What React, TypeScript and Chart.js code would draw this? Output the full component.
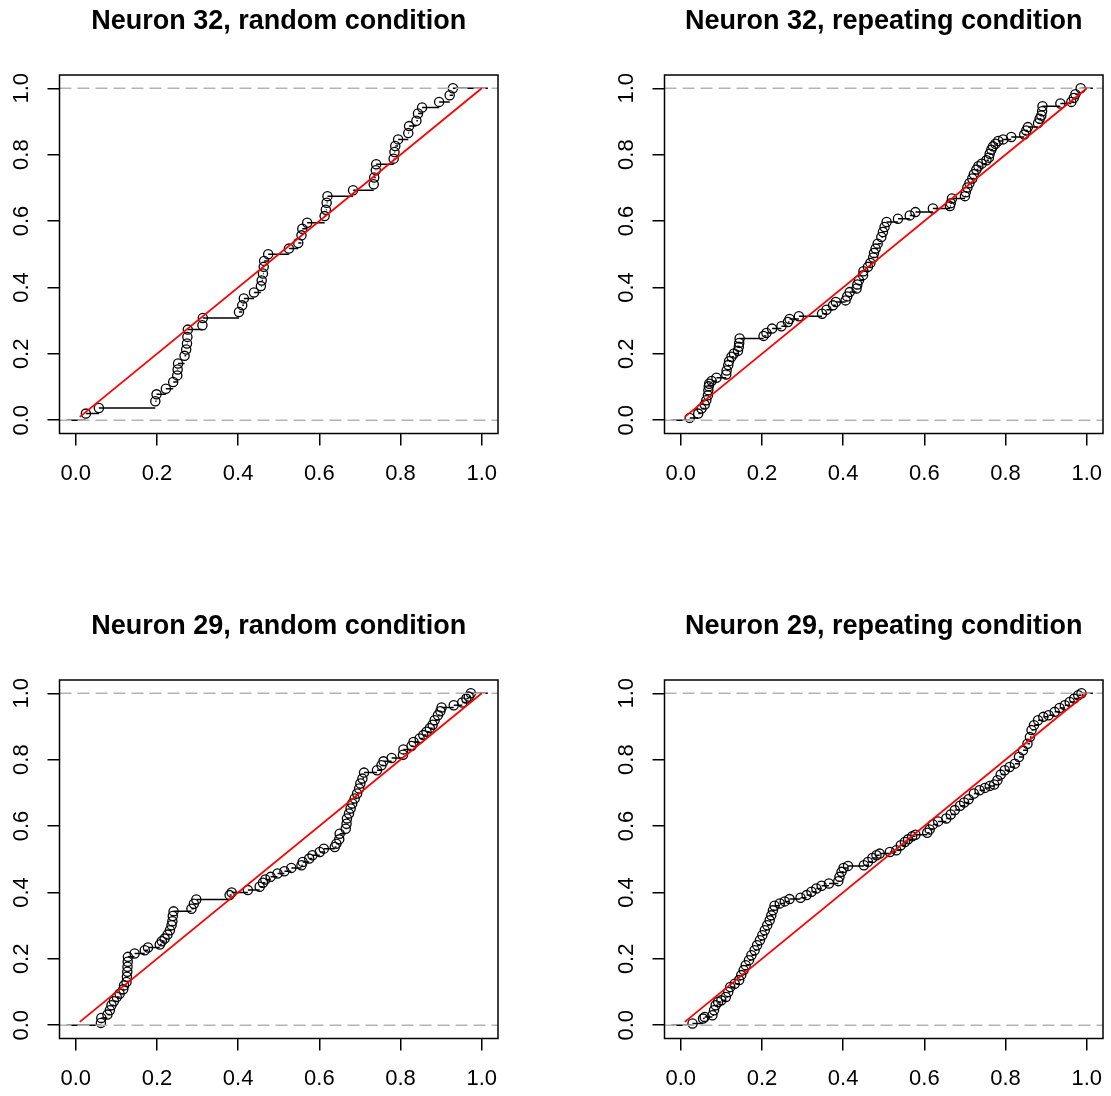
import React, { useEffect, useRef } from "react";
import { Chart, registerables } from "chart.js";

Chart.register(...registerables);

// Shared axis settings
const TICK_VALUES = [0, 0.2, 0.4, 0.6, 0.8, 1.0];
const AXIS_MIN = -0.04;
const AXIS_MAX = 1.04;
const DIAGONAL_START = 0.01;
const DIAGONAL_END = 1.0;
const STEP_LEFT = -0.023;
const STEP_RIGHT = 1.015;

// Neuron 32, random condition: jump locations and ECDF heights
const n32RandomX = [
  0.025, 0.057, 0.196, 0.199, 0.222, 0.24, 0.25, 0.251, 0.252, 0.268, 0.272, 0.274, 0.275,
  0.276, 0.312, 0.313, 0.402, 0.41, 0.414, 0.439, 0.456, 0.458, 0.461, 0.463, 0.464, 0.474,
  0.525, 0.548, 0.556, 0.558, 0.57, 0.613, 0.616, 0.618, 0.62, 0.683, 0.734, 0.735, 0.739,
  0.74, 0.783, 0.785, 0.787, 0.794, 0.819, 0.821, 0.839, 0.843, 0.853, 0.895, 0.921, 0.929,
];
const n32RandomY = [
  0.02, 0.037, 0.057, 0.078, 0.095, 0.115, 0.135, 0.153, 0.171, 0.194, 0.213, 0.231, 0.251,
  0.273, 0.286, 0.308, 0.326, 0.346, 0.367, 0.385, 0.404, 0.421, 0.442, 0.462, 0.48, 0.5,
  0.517, 0.534, 0.557, 0.577, 0.595, 0.615, 0.634, 0.655, 0.675, 0.693, 0.711, 0.731, 0.753,
  0.771, 0.788, 0.808, 0.826, 0.846, 0.865, 0.886, 0.902, 0.924, 0.942, 0.959, 0.979, 1.0,
];

// Neuron 32, repeating condition
const n32RepeatX = [
  0.022, 0.043, 0.051, 0.059, 0.063, 0.067, 0.068, 0.069, 0.07, 0.076, 0.088, 0.112, 0.113,
  0.117, 0.119, 0.125, 0.131, 0.141, 0.143, 0.144, 0.145, 0.204, 0.211, 0.225, 0.248, 0.264,
  0.268, 0.291, 0.348, 0.359, 0.375, 0.382, 0.406, 0.41, 0.416, 0.433, 0.435, 0.439, 0.449,
  0.45, 0.461, 0.467, 0.474, 0.476, 0.48, 0.485, 0.494, 0.498, 0.502, 0.507, 0.535, 0.564,
  0.578, 0.621, 0.663, 0.665, 0.668, 0.7, 0.702, 0.706, 0.711, 0.718, 0.722, 0.728, 0.733,
  0.741, 0.753, 0.759, 0.761, 0.765, 0.769, 0.775, 0.782, 0.794, 0.814, 0.846, 0.851, 0.855,
  0.88, 0.884, 0.888, 0.89, 0.891, 0.935, 0.962, 0.968, 0.972, 0.985,
];
const n32RepeatY = [
  0.007, 0.02, 0.035, 0.047, 0.06, 0.075, 0.09, 0.102, 0.11, 0.118, 0.128, 0.138, 0.15,
  0.166, 0.178, 0.191, 0.201, 0.209, 0.221, 0.233, 0.246, 0.254, 0.263, 0.276, 0.283, 0.296,
  0.305, 0.313, 0.321, 0.333, 0.346, 0.356, 0.361, 0.373, 0.386, 0.397, 0.409, 0.422, 0.437,
  0.449, 0.462, 0.474, 0.49, 0.504, 0.517, 0.532, 0.552, 0.567, 0.582, 0.597, 0.607, 0.617,
  0.627, 0.638, 0.645, 0.654, 0.668, 0.675, 0.687, 0.701, 0.714, 0.728, 0.741, 0.755, 0.765,
  0.773, 0.783, 0.791, 0.803, 0.815, 0.825, 0.833, 0.841, 0.846, 0.853, 0.861, 0.873, 0.883,
  0.895, 0.908, 0.918, 0.931, 0.946, 0.954, 0.959, 0.971, 0.982, 1.0,
];

// Neuron 29, random condition
const n29RandomX = [
  0.062, 0.063, 0.078, 0.084, 0.088, 0.094, 0.101, 0.108, 0.117, 0.119, 0.125, 0.126, 0.127,
  0.1275, 0.128, 0.1285, 0.145, 0.17, 0.178, 0.207, 0.212, 0.219, 0.226, 0.232, 0.236, 0.238,
  0.239, 0.241, 0.285, 0.291, 0.297, 0.379, 0.384, 0.424, 0.453, 0.461, 0.467, 0.48, 0.497,
  0.514, 0.531, 0.556, 0.559, 0.575, 0.583, 0.601, 0.611, 0.638, 0.642, 0.649, 0.65, 0.665,
  0.667, 0.668, 0.673, 0.677, 0.681, 0.687, 0.693, 0.698, 0.701, 0.706, 0.71, 0.742, 0.753,
  0.758, 0.778, 0.806, 0.807, 0.827, 0.832, 0.847, 0.856, 0.864, 0.872, 0.879, 0.884, 0.892,
  0.898, 0.901, 0.931, 0.952, 0.962, 0.968, 0.973,
];
const n29RandomY = [
  0.007, 0.022, 0.032, 0.045, 0.06, 0.072, 0.085, 0.095, 0.108, 0.12, 0.13, 0.146, 0.161,
  0.176, 0.191, 0.206, 0.216, 0.226, 0.234, 0.243, 0.253, 0.261, 0.273, 0.286, 0.301, 0.313,
  0.329, 0.343, 0.351, 0.366, 0.379, 0.392, 0.4, 0.407, 0.417, 0.429, 0.439, 0.447, 0.457,
  0.464, 0.474, 0.482, 0.492, 0.502, 0.512, 0.522, 0.532, 0.537, 0.547, 0.56, 0.577, 0.592,
  0.607, 0.623, 0.638, 0.653, 0.668, 0.683, 0.698, 0.713, 0.728, 0.743, 0.761, 0.768, 0.783,
  0.795, 0.805, 0.815, 0.831, 0.841, 0.853, 0.864, 0.874, 0.884, 0.895, 0.905, 0.919, 0.934,
  0.946, 0.957, 0.964, 0.972, 0.984, 0.99, 1.0,
];

// Neuron 29, repeating condition
const n29RepeatX = [
  0.029, 0.055, 0.059, 0.078, 0.082, 0.086, 0.092, 0.1, 0.111, 0.117, 0.122, 0.133, 0.144,
  0.149, 0.155, 0.16, 0.168, 0.174, 0.182, 0.188, 0.195, 0.201, 0.207, 0.213, 0.219, 0.223,
  0.227, 0.231, 0.244, 0.256, 0.268, 0.295, 0.31, 0.322, 0.334, 0.347, 0.365, 0.388, 0.391,
  0.396, 0.401, 0.412, 0.451, 0.461, 0.472, 0.482, 0.49, 0.515, 0.531, 0.542, 0.552, 0.56,
  0.57, 0.578, 0.607, 0.613, 0.621, 0.634, 0.654, 0.665, 0.675, 0.688, 0.698, 0.709, 0.722,
  0.736, 0.749, 0.761, 0.772, 0.78, 0.788, 0.798, 0.81, 0.823, 0.833, 0.843, 0.854, 0.86,
  0.864, 0.87, 0.88, 0.893, 0.906, 0.921, 0.933, 0.946, 0.958, 0.969, 0.979, 0.987,
];
const n29RepeatY = [
  0.005, 0.02, 0.025, 0.03, 0.045, 0.06, 0.07, 0.075, 0.085, 0.1, 0.115, 0.125, 0.136,
  0.151, 0.166, 0.181, 0.196, 0.211, 0.226, 0.241, 0.256, 0.271, 0.286, 0.301, 0.316, 0.331,
  0.346, 0.36, 0.367, 0.373, 0.38, 0.384, 0.392, 0.402, 0.412, 0.42, 0.427, 0.434, 0.447,
  0.462, 0.474, 0.48, 0.482, 0.492, 0.504, 0.512, 0.517, 0.522, 0.527, 0.542, 0.552, 0.56,
  0.569, 0.574, 0.58, 0.59, 0.605, 0.614, 0.623, 0.635, 0.648, 0.661, 0.671, 0.681, 0.698,
  0.708, 0.715, 0.721, 0.725, 0.738, 0.755, 0.768, 0.778, 0.788, 0.808, 0.828, 0.848, 0.868,
  0.889, 0.904, 0.919, 0.929, 0.934, 0.944, 0.956, 0.964, 0.974, 0.984, 0.994, 1.0,
];

const FONT_FAMILY = '"Liberation Sans", Arial, Helvetica, sans-serif';

type Panel = { title: string; xs: number[]; ys: number[]; left: number; top: number };

const panels: Panel[] = [
  { title: "Neuron 32, random condition", xs: n32RandomX, ys: n32RandomY, left: 0, top: 0 },
  { title: "Neuron 32, repeating condition", xs: n32RepeatX, ys: n32RepeatY, left: 605, top: 0 },
  { title: "Neuron 29, random condition", xs: n29RandomX, ys: n29RandomY, left: 0, top: 605 },
  { title: "Neuron 29, repeating condition", xs: n29RepeatX, ys: n29RepeatY, left: 605, top: 605 },
];

const CANVAS_W = 506;
const CANVAS_H = 491;

// Frame around the plotting region
const boxPlugin = {
  id: "plotBox",
  afterDraw(chart: any) {
    const { ctx, chartArea } = chart;
    ctx.save();
    ctx.strokeStyle = "#000";
    ctx.lineWidth = 1.5;
    ctx.strokeRect(chartArea.left, chartArea.top, chartArea.right - chartArea.left, chartArea.bottom - chartArea.top);
    ctx.restore();
  },
};

// Horizontal segments of the empirical CDF (no verticals)
function stepSegments(xs: number[], ys: number[]) {
  const pts: { x: number; y: number | null }[] = [];
  pts.push({ x: STEP_LEFT, y: 0 }, { x: xs[0], y: 0 }, { x: xs[0], y: null });
  for (let i = 0; i < xs.length; i++) {
    const next = i < xs.length - 1 ? xs[i + 1] : STEP_RIGHT;
    pts.push({ x: xs[i], y: ys[i] }, { x: next, y: ys[i] }, { x: next, y: null });
  }
  return pts;
}

function buildConfig(p: Panel): any {
  const tickFont = { family: FONT_FAMILY, size: 22 };
  const setTicks = (scale: any) => {
    scale.ticks = TICK_VALUES.map((v) => ({ value: v }));
  };
  const fmt = (v: any) => Number(v).toFixed(1);
  return {
    type: "scatter",
    data: {
      datasets: [
        {
          data: [
            { x: DIAGONAL_START, y: DIAGONAL_START },
            { x: DIAGONAL_END, y: DIAGONAL_END },
          ],
          showLine: true,
          borderColor: "#FF0000",
          borderWidth: 1.8,
          pointRadius: 0,
          order: 0,
        },
        {
          data: [
            { x: AXIS_MIN, y: 0 },
            { x: AXIS_MAX, y: 0 },
          ],
          showLine: true,
          borderColor: "#B3B3B3",
          borderWidth: 1.5,
          borderDash: [12, 6],
          pointRadius: 0,
          order: 1,
        },
        {
          data: [
            { x: AXIS_MIN, y: 1 },
            { x: AXIS_MAX, y: 1 },
          ],
          showLine: true,
          borderColor: "#B3B3B3",
          borderWidth: 1.5,
          borderDash: [12, 6],
          pointRadius: 0,
          order: 1,
        },
        {
          data: p.xs.map((x, i) => ({ x, y: p.ys[i] })),
          showLine: false,
          pointStyle: "circle",
          pointRadius: 4.6,
          pointBorderWidth: 1.3,
          pointBorderColor: "#000",
          pointBackgroundColor: "rgba(0,0,0,0)",
          order: 2,
        },
        {
          data: stepSegments(p.xs, p.ys),
          showLine: true,
          spanGaps: false,
          borderColor: "#000",
          borderWidth: 1.5,
          pointRadius: 0,
          order: 3,
        },
      ],
    },
    options: {
      animation: false,
      responsive: false,
      events: [],
      layout: { padding: { left: 0, top: 0, right: CANVAS_W - 498, bottom: 0 } },
      plugins: {
        legend: { display: false },
        tooltip: { enabled: false },
        title: {
          display: true,
          text: p.title,
          fullSize: false,
          color: "#000",
          font: { family: FONT_FAMILY, size: 27, weight: "bold", lineHeight: 1.2 },
          padding: { top: 5.5, bottom: 37.1 },
        },
      },
      scales: {
        x: {
          type: "linear",
          min: AXIS_MIN,
          max: AXIS_MAX,
          afterBuildTicks: setTicks,
          afterFit: (s: any) => {
            s.height = CANVAS_H - 433.5;
            s.paddingLeft = 0;
            s.paddingRight = 0;
          },
          border: { display: false },
          grid: { drawOnChartArea: false, drawTicks: true, tickLength: 12, color: "#000", lineWidth: 1.5 },
          ticks: { color: "#000", font: tickFont, padding: 15.3, minRotation: 0, maxRotation: 0, autoSkip: false, callback: fmt },
        },
        y: {
          type: "linear",
          min: AXIS_MIN,
          max: AXIS_MAX,
          afterBuildTicks: setTicks,
          afterFit: (s: any) => {
            s.width = 59.5;
            s.paddingTop = 0;
            s.paddingBottom = 0;
          },
          border: { display: false },
          grid: { drawOnChartArea: false, drawTicks: true, tickLength: 12, color: "#000", lineWidth: 1.5 },
          ticks: {
            color: "#000",
            font: tickFont,
            padding: 10.5,
            minRotation: 90,
            maxRotation: 90,
            crossAlign: "center",
            autoSkip: false,
            callback: fmt,
          },
        },
      },
    },
    plugins: [boxPlugin],
  };
}

function EcdfPanel({ panel }: { panel: Panel }) {
  const ref = useRef<HTMLCanvasElement | null>(null);
  useEffect(() => {
    if (!ref.current) return;
    const chart = new Chart(ref.current, buildConfig(panel));
    return () => chart.destroy();
  }, [panel]);
  return (
    <canvas
      ref={ref}
      width={CANVAS_W}
      height={CANVAS_H}
      style={{ position: "absolute", left: panel.left, top: panel.top, width: CANVAS_W, height: CANVAS_H }}
    />
  );
}

export default function App() {
  return (
    <div style={{ position: "absolute", left: 0, top: 0, width: 1111, height: 1096, background: "#fff" }}>
      {panels.map((p) => (
        <EcdfPanel key={p.title} panel={p} />
      ))}
    </div>
  );
}
